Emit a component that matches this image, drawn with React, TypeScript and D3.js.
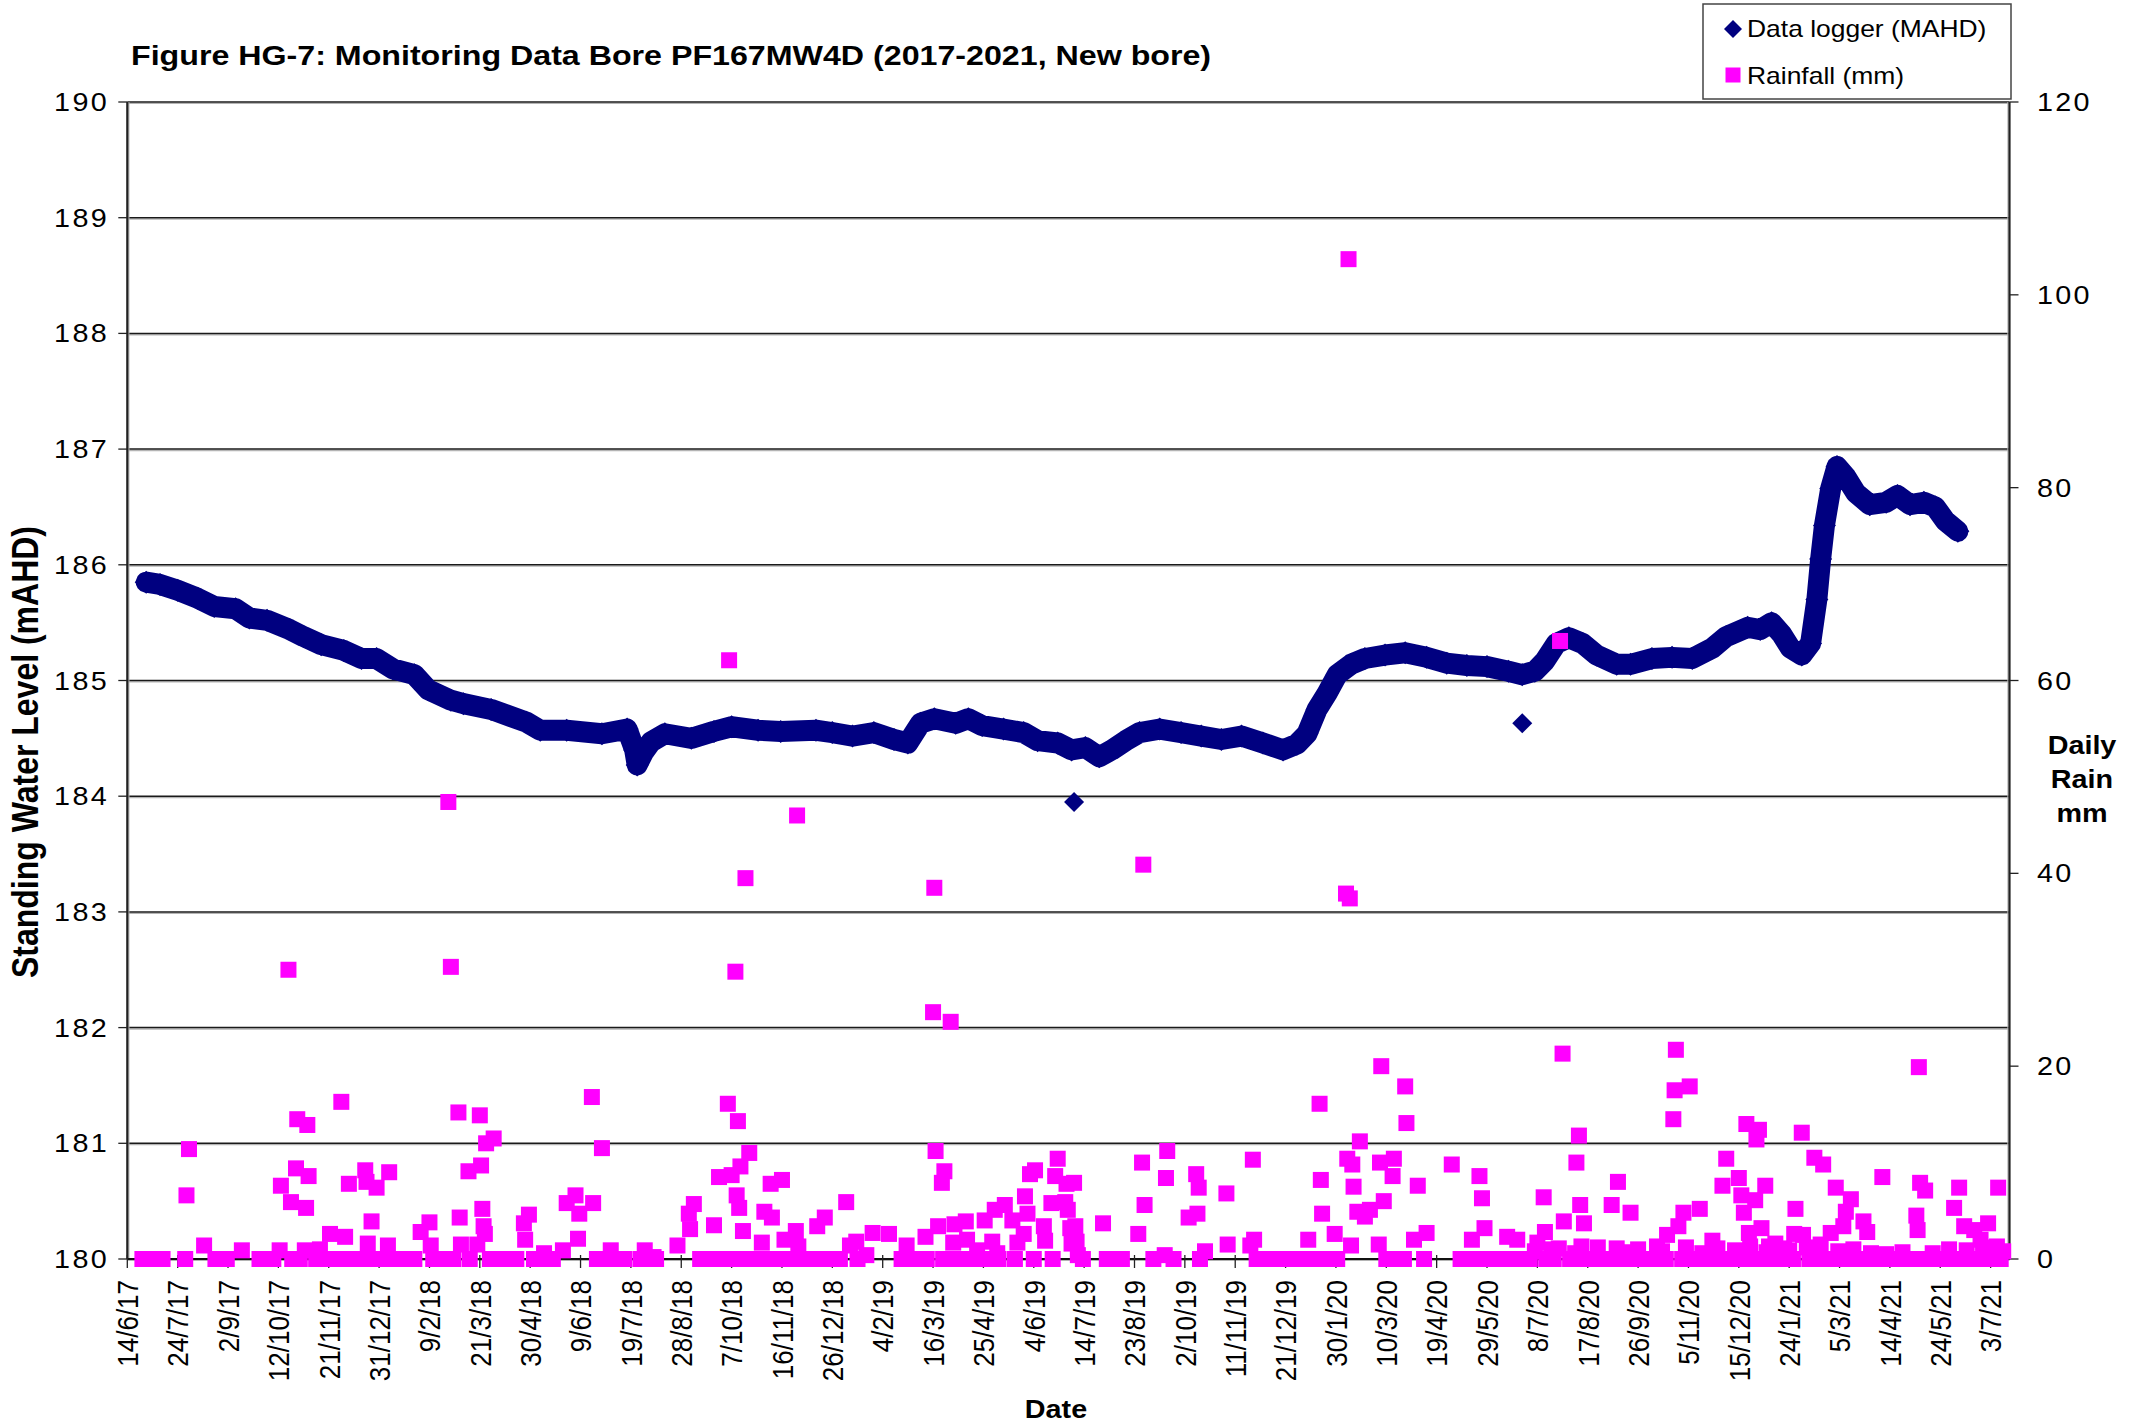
import React from 'react';
import * as d3 from 'd3';

// x axis: dates, labelled every 40 days
const firstDay = '14/6/17';
const lastDay = '18/7/21';
const xTickLabels = [
  '14/6/17', '24/7/17', '2/9/17', '12/10/17', '21/11/17', '31/12/17', '9/2/18', '21/3/18',
  '30/4/18', '9/6/18', '19/7/18', '28/8/18', '7/10/18', '16/11/18', '26/12/18', '4/2/19',
  '16/3/19', '25/4/19', '4/6/19', '14/7/19', '23/8/19', '2/10/19', '11/11/19', '21/12/19',
  '30/1/20', '10/3/20', '19/4/20', '29/5/20', '8/7/20', '17/8/20', '26/9/20', '5/11/20',
  '15/12/20', '24/1/21', '5/3/21', '14/4/21', '24/5/21', '3/7/21',
];
const levelTicks = [180, 181, 182, 183, 184, 185, 186, 187, 188, 189, 190];
const rainTicks = [0, 20, 40, 60, 80, 100, 120];

// Data logger, [days since 14/6/17, m AHD]
const logger2017: [number, number][] = [
  [15, 185.85], [26, 185.83], [40, 185.78], [56, 185.71], [69, 185.64], [86, 185.62], [97, 185.54],
  [111, 185.52], [129, 185.44], [140, 185.38], [154, 185.31], [172, 185.26], [186, 185.19], [198, 185.19],
];
const logger2018: [number, number][] = [
  [211, 185.1], [228, 185.05], [239, 184.92], [257, 184.83], [267, 184.8], [289, 184.75], [317, 184.64],
  [328, 184.57], [349, 184.57], [377, 184.54], [397, 184.58], [403, 184.4], [405, 184.27], [410, 184.38],
  [416, 184.47], [427, 184.54], [448, 184.5], [466, 184.56], [480, 184.6], [501, 184.57], [519, 184.56],
  [547, 184.57], [560, 184.55],
];
const logger2019: [number, number][] = [
  [576, 184.52], [593, 184.55], [609, 184.49], [620, 184.46], [630, 184.63], [641, 184.67], [658, 184.63],
  [668, 184.67], [679, 184.61], [696, 184.58], [712, 184.55], [723, 184.48], [739, 184.46], [750, 184.4],
  [761, 184.42], [772, 184.34], [782, 184.4], [793, 184.48], [804, 184.55], [820, 184.58], [837, 184.55],
  [853, 184.52], [869, 184.49], [885, 184.52], [902, 184.46], [918, 184.4], [929, 184.45],
];
const logger2020: [number, number][] = [
  [937, 184.54], [945, 184.75], [953, 184.89], [961, 185.05], [972, 185.14], [983, 185.19], [999, 185.22],
  [1015, 185.24], [1032, 185.2], [1048, 185.15], [1064, 185.13], [1080, 185.12], [1097, 185.08],
  [1108, 185.05], [1118, 185.08], [1126, 185.17], [1135, 185.32], [1145, 185.37], [1156, 185.32],
  [1167, 185.22], [1183, 185.14], [1194, 185.14], [1211, 185.19], [1227, 185.2], [1243, 185.19],
  [1259, 185.28], [1270, 185.38], [1287, 185.46],
];
const logger2021: [number, number][] = [
  [1297, 185.44], [1306, 185.5], [1314, 185.4], [1321, 185.28], [1330, 185.22], [1337, 185.32],
  [1342, 185.7], [1345, 186.05], [1348, 186.34], [1353, 186.66], [1358, 186.85], [1365, 186.76],
  [1373, 186.62], [1384, 186.52], [1397, 186.54], [1406, 186.6], [1416, 186.52], [1427, 186.54],
  [1436, 186.5], [1444, 186.38], [1454, 186.29],
];
// single odd readings away from the trend
const loggerSpikes: [number, number][] = [[752, 183.95], [1108, 184.63]];

// Daily rainfall, [days since 14/6/17, mm]
const rain2017: [number, number][] = [
  [12, 0], [16, 0], [20, 0], [24, 0], [28, 0], [46, 0], [47, 6.6], [49, 11.4], [61, 1.4], [70, 0], [76, 0],
  [79, 0], [91, 0.9], [105, 0], [112, 0], [116, 0], [121, 0.9], [122, 7.6], [128, 30], [130, 5.9], [131, 0],
  [134, 9.4], [135, 14.5], [137, 0], [141, 0.9], [142, 5.3], [143, 13.9], [144, 8.6], [150, 0], [153, 1],
  [156, 0], [161, 2.6], [166, 0], [170, 16.3], [172, 0], [173, 2.3], [176, 7.8], [178, 0], [185, 0],
  [189, 9.2], [190, 8], [191, 1.6], [194, 3.9], [195, 0], [198, 7.4],
];
const rain2018: [number, number][] = [
  [206, 0], [207, 1.4], [208, 9], [217, 0], [222, 0], [228, 0], [233, 2.8], [240, 3.8], [241, 1.4], [243, 0],
  [248, 0], [255, 47.4], [257, 30.3], [259, 0], [263, 15.2], [264, 4.3], [265, 1.5], [271, 9.1], [272, 0],
  [278, 1.5], [280, 14.9], [281, 9.7], [282, 5.2], [283, 3.4], [284, 2.6], [285, 12], [288, 0], [291, 12.5],
  [296, 0], [304, 0], [309, 0], [315, 3.7], [316, 2], [319, 4.6], [323, 0], [330, 0], [331, 0.6], [338, 0],
  [346, 0.9], [349, 5.8], [356, 6.6], [358, 2.1], [359, 4.7], [369, 16.8], [370, 5.8], [373, 0], [377, 11.5],
  [380, 0], [384, 0.9], [389, 0], [395, 0], [408, 0], [411, 0.9], [418, 0.2], [420, 0], [437, 1.4], [446, 4.7],
  [447, 3.1], [450, 5.7], [455, 0], [465, 0], [466, 3.5], [470, 8.5], [472, 0], [477, 16.1], [478, 62.1],
  [480, 8.7], [482, 0], [483, 29.8], [484, 6.6], [485, 14.3], [486, 5.3], [487, 9.6], [489, 2.9], [491, 39.5],
  [492, 0], [494, 11], [500, 0], [504, 1.7], [505, 0], [506, 4.9], [511, 7.8], [512, 4.3], [516, 0], [520, 8.2],
  [522, 2], [527, 0], [531, 2.9], [532, 46], [533, 1.3], [535, 0], [545, 0], [548, 3.4], [552, 0], [554, 4.3],
  [556, 0],
];
const rain2019: [number, number][] = [
  [566, 0], [571, 5.9], [574, 1.4], [579, 1.8], [580, 0], [587, 0.4], [592, 2.7], [605, 2.6], [615, 0],
  [619, 1.4], [622, 0], [627, 0], [634, 2.3], [635, 0], [640, 25.6], [641, 38.5], [642, 11.2], [644, 3.4],
  [647, 7.9], [648, 0], [649, 9.1], [654, 24.6], [655, 0], [656, 1.7], [657, 3.6], [659, 0], [665, 0],
  [666, 3.9], [667, 2], [670, 0], [675, 0.9], [678, 0], [681, 4], [685, 0], [687, 1.8], [689, 5.1], [691, 0.6],
  [692, 0], [697, 5.6], [703, 4], [705, 0], [707, 1.7], [712, 2.6], [713, 6.5], [715, 4.7], [717, 8.8],
  [720, 0], [721, 9.2], [728, 3.4], [729, 1.9], [734, 5.8], [735, 0], [737, 8.6], [739, 10.4], [745, 5.9],
  [746, 7.8], [747, 5.1], [749, 3.2], [750, 1.6], [752, 7.9], [753, 3.4], [754, 1.8], [755, 0.4], [759, 0],
  [775, 3.7], [778, 0], [790, 0], [803, 2.6], [806, 10], [807, 40.9], [808, 5.6], [815, 0], [824, 0.4],
  [825, 8.4], [826, 11.2], [831, 0], [843, 4.3], [849, 8.8], [850, 4.7], [851, 7.4], [852, 0], [856, 0.8],
  [873, 6.8], [874, 1.5], [892, 1.4], [894, 10.3], [895, 2], [897, 0], [908, 0], [918, 0], [926, 0],
];
const rain2020: [number, number][] = [
  [931, 0], [938, 2], [942, 0], [947, 16.1], [948, 8.2], [949, 4.7], [953, 0], [959, 2.6], [961, 0],
  [968, 37.9], [969, 10.4], [970, 103.7], [971, 37.4], [972, 1.4], [973, 9.8], [974, 7.5], [977, 4.9],
  [979, 12.2], [983, 4.4], [987, 5.1], [994, 1.5], [995, 10], [996, 20], [998, 6], [1000, 0], [1005, 8.6],
  [1006, 10.4], [1008, 0], [1014, 0], [1015, 17.9], [1016, 14.1], [1022, 2], [1025, 7.6], [1030, 0],
  [1032, 2.7], [1052, 9.8], [1059, 0], [1065, 0], [1068, 2], [1074, 8.6], [1075, 0], [1076, 6.3], [1078, 3.2],
  [1085, 0], [1092, 0], [1096, 2.3], [1098, 0], [1104, 2], [1105, 0], [1112, 0], [1114, 0], [1118, 0.8],
  [1120, 1.7], [1125, 6.4], [1126, 2.8], [1127, 0], [1131, 1], [1133, 0], [1137, 1.1], [1138, 64.1],
  [1140, 21.3], [1141, 3.9], [1146, 0], [1150, 0.6], [1151, 10], [1152, 0], [1153, 12.8], [1154, 5.6],
  [1155, 1.3], [1157, 3.7], [1159, 0], [1165, 0], [1168, 1.2], [1171, 0], [1178, 0], [1179, 5.6], [1183, 1.1],
  [1184, 8], [1188, 0.7], [1190, 0], [1194, 4.8], [1197, 0], [1200, 1], [1203, 0], [1209, 0], [1215, 1.3],
  [1216, 0], [1219, 0.8], [1222, 0], [1223, 2.5], [1228, 14.5], [1229, 17.5], [1230, 21.7], [1232, 3.4],
  [1235, 0], [1236, 4.8], [1238, 1.2], [1241, 17.9], [1247, 0], [1249, 5.2], [1251, 0.6], [1254, 0],
  [1259, 1.9], [1260, 0], [1263, 1.1], [1266, 0], [1267, 7.6], [1270, 10.4], [1273, 0], [1277, 0.9],
  [1279, 0], [1280, 8.4], [1282, 6.6], [1284, 4.8], [1285, 0], [1286, 14], [1288, 2.7], [1289, 1.3],
  [1292, 0], [1293, 6.1], [1294, 12.4], [1296, 13.4],
];
const rain2021: [number, number][] = [
  [1298, 3.2], [1299, 0], [1301, 7.6], [1302, 0.7], [1304, 1.3], [1305, 0], [1309, 1.6], [1311, 0],
  [1316, 1.1], [1317, 0], [1320, 0.9], [1323, 0], [1324, 2.6], [1325, 5.2], [1330, 13.1], [1331, 2.5],
  [1334, 1.2], [1336, 0], [1340, 10.5], [1342, 0], [1345, 1.5], [1347, 9.8], [1349, 0], [1353, 2.7],
  [1355, 0], [1357, 7.4], [1359, 0.8], [1361, 0], [1363, 3.4], [1365, 4.9], [1368, 0], [1369, 6.2],
  [1371, 1], [1374, 0], [1379, 3.9], [1380, 0], [1382, 2.8], [1385, 0.6], [1387, 0], [1393, 0], [1394, 8.5],
  [1397, 0.5], [1399, 0], [1406, 0], [1410, 0.7], [1412, 0], [1418, 0], [1421, 4.5], [1422, 3],
  [1423, 19.9], [1424, 7.9], [1425, 0], [1428, 7.1], [1431, 0], [1434, 0.6], [1437, 0], [1444, 0],
  [1447, 1], [1450, 0], [1451, 5.3], [1455, 7.4], [1456, 0], [1459, 3.4], [1461, 0.9], [1463, 0],
  [1467, 3], [1469, 0], [1472, 2], [1474, 1.2], [1475, 0], [1478, 3.7], [1482, 0], [1485, 1.3],
  [1486, 7.4], [1488, 0], [1490, 0.8],
];

const W = 2139;
const H = 1426;
const plot = { left: 127.3, right: 2009.5, top: 102, bottom: 1259 };
const FONT = '"Liberation Sans", Arial, sans-serif';
const SX = 1.15; // the original's text is a little wide
const NAVY = '#000080';
const MAGENTA = '#FF00FF';

const parseDay = d3.timeParse('%d/%m/%y');

const diamond = (cx: number, cy: number, r: number) =>
  `M${cx},${cy - r}L${cx + r},${cy}L${cx},${cy + r}L${cx - r},${cy}Z`;

function Txt(props: any) {
  const { x, y, rotate, size, bold, anchor, dy, spacing, children } = props;
  const t = `translate(${x},${y}) scale(${SX},1)${rotate ? ` rotate(${rotate})` : ''}`;
  return (
    <text transform={t} fontFamily={FONT} fontSize={size} fontWeight={bold ? 'bold' : 'normal'}
      textAnchor={anchor || 'start'} dy={dy} letterSpacing={spacing || 0} fill="#000">
      {children}
    </text>
  );
}

export default function App() {
  const start = parseDay(firstDay)!;
  const x = d3.scaleTime().domain([start, parseDay(lastDay)!]).range([plot.left, plot.right]);
  const yLevel = d3.scaleLinear().domain([180, 190]).range([plot.bottom, plot.top]);
  const yRain = d3.scaleLinear().domain([0, 120]).range([plot.bottom, plot.top]);
  const at = (day: number) => x(d3.timeDay.offset(start, day));

  const logger = [...logger2017, ...logger2018, ...logger2019, ...logger2020, ...logger2021];
  const rain = [...rain2017, ...rain2018, ...rain2019, ...rain2020, ...rain2021];

  const band = d3.line<[number, number]>()
    .x(d => at(d[0]))
    .y(d => yLevel(d[1]));

  const sq = 16;

  return (
    <div style={{ position: 'absolute', left: 0, top: 0 }}>
      <svg width={W} height={H} style={{ display: 'block', background: '#fff' }}>
        {/* gridlines */}
        {levelTicks.map(v => (
          <g key={'g' + v}>
            <line x1={plot.left} x2={plot.right} y1={yLevel(v) + 1.4} y2={yLevel(v) + 1.4} stroke="#b4b4b4" strokeWidth={1.3} />
            <line x1={plot.left} x2={plot.right} y1={yLevel(v)} y2={yLevel(v)} stroke="#1a1a1a" strokeWidth={1.5} />
          </g>
        ))}

        {/* axes */}
        <line x1={plot.left + 1.5} x2={plot.left + 1.5} y1={plot.top} y2={plot.bottom} stroke="#b4b4b4" strokeWidth={1.3} />
        <line x1={plot.left} x2={plot.left} y1={plot.top} y2={plot.bottom} stroke="#222" strokeWidth={2.2} />
        <line x1={plot.right - 1.5} x2={plot.right - 1.5} y1={plot.top} y2={plot.bottom} stroke="#b4b4b4" strokeWidth={1.3} />
        <line x1={plot.right} x2={plot.right} y1={plot.top} y2={plot.bottom} stroke="#222" strokeWidth={2.2} />
        <line x1={plot.left} x2={plot.right} y1={plot.bottom} y2={plot.bottom} stroke="#111" strokeWidth={2.2} />

        {levelTicks.map(v => (
          <g key={'l' + v}>
            <line x1={plot.left - 9} x2={plot.left} y1={yLevel(v)} y2={yLevel(v)} stroke="#222" strokeWidth={1.3} />
            <Txt x={109} y={yLevel(v)} size={25} anchor="end" dy="0.36em" spacing={2}>{v}</Txt>
          </g>
        ))}
        {rainTicks.map(v => (
          <g key={'r' + v}>
            <line x1={plot.right} x2={plot.right + 9} y1={yRain(v)} y2={yRain(v)} stroke="#222" strokeWidth={1.3} />
            <Txt x={2037} y={yRain(v)} size={25} dy="0.36em" spacing={2}>{v}</Txt>
          </g>
        ))}
        {xTickLabels.map(lbl => {
          const tx = x(parseDay(lbl)!);
          return (
            <g key={'x' + lbl}>
              <line x1={tx} x2={tx} y1={plot.bottom - 4} y2={plot.bottom + 9} stroke="#222" strokeWidth={1.3} />
              <Txt x={tx} y={1280} rotate={-90} size={26} anchor="end" dy="0.36em">{lbl}</Txt>
            </g>
          );
        })}

        {/* data logger: dense daily diamonds merge into a band */}
        <path d={band(logger) || ''} fill="none" stroke={NAVY} strokeWidth={21} strokeLinejoin="round" strokeLinecap="round" />
        {logger.map(d => (
          <path key={'d' + d[0]} d={diamond(at(d[0]), yLevel(d[1]), 11.5)} fill={NAVY} />
        ))}
        {loggerSpikes.map(d => (
          <path key={'s' + d[0]} d={diamond(at(d[0]), yLevel(d[1]), 10)} fill={NAVY} />
        ))}

        {/* rainfall */}
        {rain.map((d, i) => (
          <rect key={'p' + i} x={at(d[0]) - sq / 2} y={yRain(d[1]) - sq / 2} width={sq} height={sq} fill={MAGENTA} />
        ))}

        {/* titles */}
        <Txt x={131} y={65} size={28} bold>Figure HG-7: Monitoring Data Bore PF167MW4D (2017-2021, New bore)</Txt>
        <Txt x={25} y={752} rotate={-90} size={32} bold anchor="middle" dy="0.36em">Standing Water Level (mAHD)</Txt>
        <Txt x={1056} y={1418} size={25} bold anchor="middle">Date</Txt>
        <Txt x={2082} y={754} size={25} bold anchor="middle">Daily</Txt>
        <Txt x={2082} y={788} size={25} bold anchor="middle">Rain</Txt>
        <Txt x={2082} y={822} size={25} bold anchor="middle">mm</Txt>

        {/* legend */}
        <rect x={1703} y={4} width={308} height={95} fill="#fff" stroke="#444" strokeWidth={1.5} />
        <path d={diamond(1733, 29, 9)} fill={NAVY} />
        <Txt x={1747} y={37} size={23}>Data logger (MAHD)</Txt>
        <rect x={1733 - 7.5} y={75 - 7.5} width={15} height={15} fill={MAGENTA} />
        <Txt x={1747} y={84} size={23}>Rainfall (mm)</Txt>
      </svg>
    </div>
  );
}
